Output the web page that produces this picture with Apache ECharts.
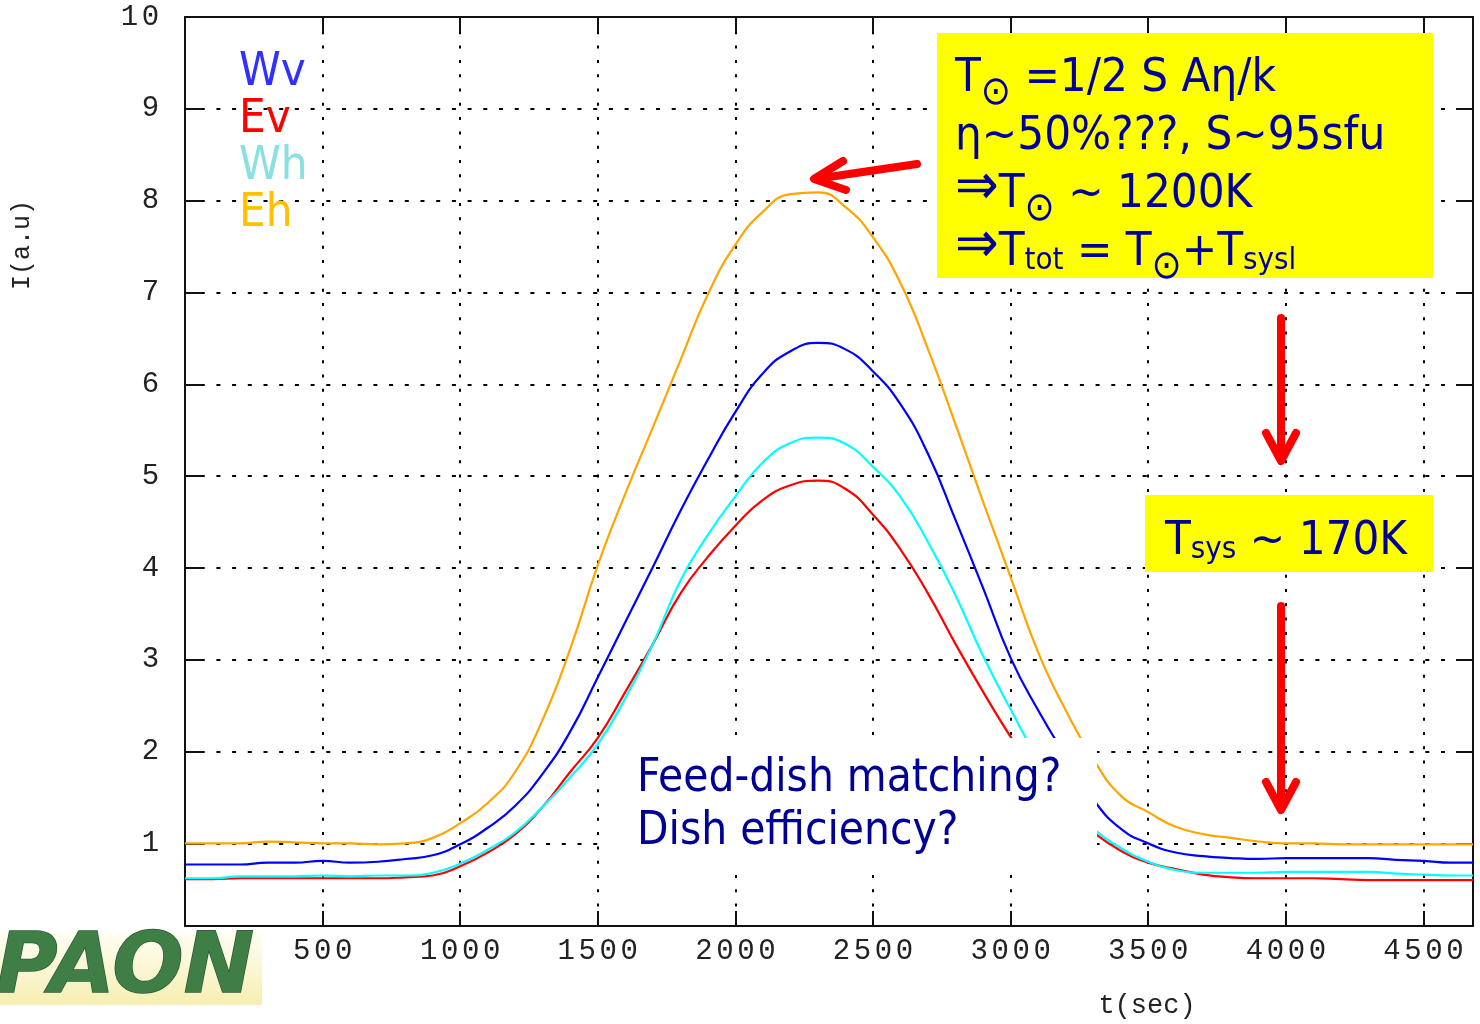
<!DOCTYPE html>
<html>
<head>
<meta charset="utf-8">
<script src="https://cdn.jsdelivr.net/npm/echarts@6/dist/echarts.min.js"></script>
<style>
html,body{margin:0;padding:0;background:#fff;}
#chart{width:1480px;height:1024px;}
</style>
</head>
<body>
<div id="chart"></div>
<script>
// ---------------- data ----------------
const seriesNames = ['Wv', 'Ev', 'Wh', 'Eh'];
const timeSec = [0,100,200,300,400,500,600,700,800,900,1000,1100,1200,1300,1400,1500,1600,1700,1800,1900,
  2000,2100,2200,2300,2400,2500,2600,2700,2800,2900,3000,3100,3200,3300,3400,3500,3600,3700,3800,3900,
  4000,4100,4200,4300,4400,4500,4600,4680];
const wv = [0.77,0.77,0.77,0.79,0.79,0.81,0.79,0.80,0.83,0.87,0.99,1.17,1.41,1.76,2.22,2.81,3.41,4.01,4.62,5.18,
  5.70,6.12,6.36,6.45,6.38,6.14,5.78,5.24,4.52,3.78,3.02,2.45,1.95,1.48,1.16,1.00,0.90,0.86,0.84,0.83,
  0.84,0.84,0.84,0.84,0.82,0.81,0.79,0.79];
const ev = [0.61,0.61,0.62,0.62,0.62,0.62,0.62,0.62,0.63,0.65,0.75,0.90,1.10,1.40,1.78,2.15,2.65,3.17,3.72,4.12,
  4.46,4.74,4.90,4.95,4.86,4.58,4.20,3.72,3.17,2.65,2.16,1.72,1.38,1.12,0.92,0.79,0.72,0.66,0.63,0.62,
  0.62,0.62,0.61,0.60,0.60,0.60,0.60,0.60];
const wh = [0.62,0.62,0.64,0.64,0.64,0.65,0.64,0.65,0.65,0.68,0.78,0.93,1.12,1.40,1.72,2.08,2.58,3.17,3.86,4.36,
  4.78,5.15,5.36,5.42,5.35,5.10,4.77,4.28,3.70,3.04,2.46,1.92,1.50,1.16,0.95,0.80,0.71,0.68,0.68,0.68,
  0.69,0.69,0.69,0.69,0.67,0.66,0.65,0.65];
const eh = [1.00,1.00,1.00,1.02,1.01,1.00,1.00,0.99,1.00,1.06,1.22,1.44,1.78,2.35,3.12,4.03,4.81,5.53,6.26,6.98,
  7.52,7.88,8.07,8.09,7.93,7.60,7.10,6.38,5.56,4.72,3.90,3.08,2.45,1.92,1.52,1.34,1.18,1.10,1.06,1.02,
  1.00,1.00,0.99,0.99,0.99,0.99,0.99,0.99];
const xRange = [0, 4680];
const xStep = 500;
const yRange = [0.1, 10];
const xTitle = 't(sec)';
const yTitle = 'I(a.u)';

// ---------------- styles ----------------
const seriesValues = [wv, ev, wh, eh];
const lineColors = ['#0000ff', '#ff0000', '#00ffff', '#ffa500'];
const legendColors = ['#3030ff', '#ff0000', '#88e0e0', '#ffc000'];
const TXT = 'DejaVu Sans Condensed, DejaVu Sans, sans-serif';
const MONO = 'Liberation Mono, DejaVu Sans Mono, monospace';
const NAVY = '#000096';
const RED = '#ff0000';

const spaced = v => String(v).split('').map(c => '{d|' + c + '}').join('');
const tickRich = { d: { fontFamily: MONO, fontSize: 29, color: '#222', padding: [0, 1.8, 0, 1.8] } };
const axisLineStyle = { color: '#111', width: 2 };

const chart = echarts.init(document.getElementById('chart'), null, { renderer: 'canvas' });

const richBox = {
  m: { fontFamily: TXT, fontSize: 47, lineHeight: 58, fill: NAVY, verticalAlign: 'bottom' },
  a: { fontFamily: TXT, fontSize: 58, lineHeight: 58, fill: NAVY, verticalAlign: 'bottom' },
  o: { fontFamily: TXT, fontSize: 40, lineHeight: 20, fill: NAVY, verticalAlign: 'bottom', padding: [0, 0, -12, 0] },
  s: { fontFamily: TXT, fontSize: 31, lineHeight: 27, fill: NAVY, verticalAlign: 'bottom' }
};

const arrow = (pts) => ({
  type: 'polyline', z: 120, shape: { points: pts },
  style: { stroke: RED, lineWidth: 8, lineCap: 'round', lineJoin: 'round', fill: null }
});

const option = {
  animation: false,
  backgroundColor: '#fff',
  grid: { left: 185, right: 7, top: 17, bottom: 98, containLabel: false },
  legend: {
    orient: 'vertical', left: 229, top: 44, itemGap: 0, itemWidth: 0, itemHeight: 0,
    icon: 'rect', selectedMode: false,
    itemStyle: { opacity: 0 },
    textStyle: { fontFamily: TXT, fontSize: 47, lineHeight: 45.5 },
    data: seriesNames.map((n, i) => ({ name: n, textStyle: { color: legendColors[i] } }))
  },
  xAxis: [
    {
      type: 'value', min: xRange[0], max: xRange[1], interval: xStep, position: 'bottom',
      axisLine: { show: true, onZero: false, lineStyle: axisLineStyle },
      axisTick: { show: true, inside: true, length: 15, lineStyle: axisLineStyle },
      axisLabel: { showMinLabel: false, showMaxLabel: false, margin: 11, formatter: spaced, rich: tickRich },
      splitLine: { show: true, lineStyle: { type: [3, 11.3], color: '#000', width: 2 } }
    },
    {
      type: 'value', min: xRange[0], max: xRange[1], interval: xStep, position: 'top',
      axisLine: { show: true, onZero: false, lineStyle: axisLineStyle },
      axisTick: { show: true, inside: true, length: 15, lineStyle: axisLineStyle },
      axisLabel: { show: false }, splitLine: { show: false }
    }
  ],
  yAxis: [
    {
      type: 'value', min: yRange[0], max: yRange[1], minInterval: 1, maxInterval: 1, splitNumber: 10,
      position: 'left',
      axisLine: { show: true, onZero: false, lineStyle: axisLineStyle },
      axisTick: { show: true, inside: true, length: 17, lineStyle: axisLineStyle },
      axisLabel: { showMinLabel: false, margin: 24, formatter: spaced, rich: tickRich },
      splitLine: { show: true, lineStyle: { type: [4, 11.7], color: '#000', width: 2 } }
    },
    {
      type: 'value', min: yRange[0], max: yRange[1], minInterval: 1, maxInterval: 1, splitNumber: 10,
      position: 'right',
      axisLine: { show: true, onZero: false, lineStyle: axisLineStyle },
      axisTick: { show: true, inside: true, length: 17, lineStyle: axisLineStyle },
      axisLabel: { show: false }, splitLine: { show: false }
    }
  ],
  series: seriesNames.map((n, i) => ({
    name: n, type: 'line', xAxisIndex: 0, yAxisIndex: 0,
    data: timeSec.map((t, j) => [t, seriesValues[i][j]]),
    showSymbol: false, smooth: 0.5, z: 3 + i,
    lineStyle: { width: 2.2, color: lineColors[i] },
    itemStyle: { color: lineColors[i] },
    emphasis: { disabled: true }
  })),
  graphic: {
    elements: [
      // white box behind the question text
      { type: 'rect', z: 100, shape: { x: 607, y: 738, width: 490, height: 132 }, style: { fill: '#fff' } },
      { type: 'text', z: 110, x: 637, y: 753,
        style: { text: 'Feed-dish matching?\nDish efficiency?', fill: NAVY, fontFamily: TXT, fontSize: 45.5,
                 lineHeight: 53, align: 'left', verticalAlign: 'top' } },
      // yellow box 1
      { type: 'rect', z: 100, shape: { x: 937, y: 33, width: 496, height: 245 }, style: { fill: '#ffff00' } },
      { type: 'text', z: 110, x: 955, y: 44,
        style: {
          text: '{m|T}{o|⊙}{m| =1/2 S Aη/k}\n{m|η~50%???, S~95sfu}\n{a|⇒}{m|T}{o|⊙}{m| ~ 1200K}\n{a|⇒}{m|T}{s|tot}{m| = T}{o|⊙}{m|+T}{s|sysl}',
          rich: richBox, align: 'left', verticalAlign: 'top'
        } },
      // yellow box 2
      { type: 'rect', z: 100, shape: { x: 1145, y: 495, width: 288, height: 77 }, style: { fill: '#ffff00' } },
      { type: 'text', z: 110, x: 1165, y: 507,
        style: { text: '{m|T}{s|sys}{m| ~ 170K}', rich: richBox, align: 'left', verticalAlign: 'top' } },
      // arrows
      arrow([[917, 164], [822, 178]]),
      arrow([[843, 161], [814, 179], [846, 190]]),
      arrow([[1281, 318], [1281, 458]]),
      arrow([[1266, 433], [1281, 461], [1296, 433]]),
      arrow([[1281, 606], [1281, 806]]),
      arrow([[1266, 782], [1281, 810], [1296, 782]]),
      // axis titles
      { type: 'text', z: 110, x: 1147, y: 1006,
        style: { text: xTitle, fill: '#222', fontFamily: MONO, fontSize: 27, align: 'center', verticalAlign: 'middle' } },
      { type: 'text', z: 110, x: 22, y: 245, rotation: Math.PI / 2,
        style: { text: yTitle, fill: '#222', fontFamily: MONO, fontSize: 25, align: 'center', verticalAlign: 'middle' } },
      // PAON logo (text)
      { type: 'rect', z: 100, shape: { x: 0, y: 932, width: 262, height: 73 },
        style: { fill: new echarts.graphic.LinearGradient(0, 0, 0, 1, [
          { offset: 0, color: '#fffff4' }, { offset: 1, color: '#f6eeb2' }]) } },
      { type: 'text', z: 110, x: -4, y: 970,
        style: { text: 'PAON', fontFamily: 'DejaVu Sans, sans-serif', fontSize: 84, fontWeight: 'bold',
                 fontStyle: 'italic', align: 'left', verticalAlign: 'middle',
                 fill: '#3f7f45', stroke: '#2a5a3a', lineWidth: 1.5 } }
    ]
  }
};
chart.setOption(option);
</script>
</body>
</html>
